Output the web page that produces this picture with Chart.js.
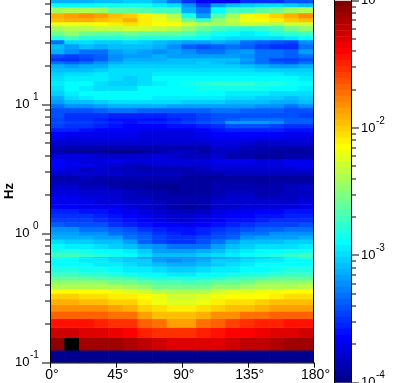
<!DOCTYPE html>
<html lang="en">
<head>
<meta charset="UTF-8">
<title>Directional spectrum</title>
<script src="https://cdn.jsdelivr.net/npm/chart.js@4"></script>
<style>
    body { margin: 0; background: #fff; overflow: hidden; }
    canvas { position: absolute; top: 0; }
    #spectrum { left: 0; }
    #colorbar { left: 320px; }
</style>
</head>
<body>
<canvas id="spectrum" width="418" height="383"></canvas>
<canvas id="colorbar" width="98" height="383"></canvas>
<script>
// column centres in degrees
const angles = [5,15,25,35,45,55,65,75,85,95,105,115,125,135,145,155,165,175];
const angleTicks = [0,45,90,135,180];

// frequency bin edges in Hz, top of the plot first
const binEdgesHz = [64.5,61.2,57,51.2,46.8,43.6,40.6,37.2,34,31.6,29.5,27,24.7,23,21.8,20.6,19.2,17.9,16.7,15.2,14,12.8,11.7,10.9,10.1,9.43,8.63,7.89,7.48,7.1,6.6,6.15,5.62,5.15,4.8,4.46,4.16,3.8,3.54,3.3,3.07,2.81,2.57,2.39,2.19,2,1.83,1.68,1.56,1.43,1.31,1.22,1.13,1.04,0.966,0.9,0.837,0.766,0.713,0.664,0.641,0.597,0.556,0.5,0.469,0.4375,0.406,0.375,0.344,0.3125,0.281,0.25,0.219,0.1875,0.156,0.125,0.1];

// power in dB above 1e-4, one row per bin, same order as binEdgesHz
const powerDb = [
[8.5,8.5,8.5,9,9,9.5,9.5,8.5,7,5,3.5,3,3,5,5,5,6,6],
[11,11,11,11.5,11.5,11.5,11.5,10.5,10,7.5,5.5,8,9,9.5,10,10,9.5,9],
[15.5,16,16,15.5,14,14,13.5,13,13,8.5,7,11,13,13,14,14.5,15.5,16],
[21,21.5,22,21.5,20.5,20,19,17.5,16,11.5,8,13.5,15.5,18,19,20,21,22],
[20.5,21,21,20.5,20,21,19,18,17,14.5,12.5,15,16.5,18,18.5,19,20,20.5],
[18,18,18,18.5,19,19.5,19,18.5,18.5,17,16,15.5,16,17,16.5,16,17,17],
[15.5,16,16,16.5,16.5,17,17,16.5,16,15,14,13,12.5,12,12.5,13,14.5,15],
[14.5,15,14.5,14,14,14.5,14,14,14,13.5,12.5,11.5,11,10.5,11,12,12.5,13],
[12,13,12,12,12,12.5,12,12,12,11.5,11,10.5,10,10,10,10,10.5,11],
[7,10,10,9.5,9.5,10,9.5,9,8.5,8,8,8.5,8,7,6.5,6,5.5,7.5],
[9,8,9,8.5,9,9,9,8.5,7.5,6.5,6,6.5,7,6.5,5.5,5,5,7],
[8.5,7.5,7,7,8,8.5,8,7.5,8,7.5,7,7,7.5,8,7,7,6.5,8],
[6,5.5,6,6.5,7.5,8,8,8.5,8,8,8,8,8,7.5,7,7,6.5,7],
[5,5,5.5,6.5,7.5,8.5,8.5,8.5,9,9,9,9,9,8,7,5.5,5.5,6],
[7,6.5,7,7.5,8.5,9,9,9,9,9,9.5,9,8.5,7.5,7,6.5,6,7],
[8.5,8,8.5,8.5,9.5,9.5,9.5,9.5,9.5,9.5,9.5,9.5,9.5,9,8.5,8,8,8.5],
[9,9,9,9.5,10,10,10,10,10,10,10,10,10,10,9.5,9.5,9.5,9.5],
[9.5,10,10,10.5,10,10,10,10.5,10.5,10.5,10.5,10.5,10.5,10.5,10.5,10.5,10,10],
[10,10.5,10.5,10.5,10,9.5,10,11,11,11,11,11,11,11,11,11,11,10.5],
[10.5,11,11,10,9.5,9.5,10,10.5,11,11.5,12,12.5,12.5,12.5,12,12,11.5,11],
[10,11,10.5,10,10,10,11,11,11,11,11.5,11.5,11.5,11.5,11.5,11,11,10.5],
[9.5,10.5,11,11,11,11,11,11,11,11,11,11,10.5,10.5,10.5,10,10,10],
[8.5,10,10.5,11,11,11,11,10.5,10.5,10.5,10.5,10.5,10,10,9.5,9.5,9,9.5],
[8,9,9,9.5,10,10,10,10,10,9.5,9.5,9.5,9,9,9,8.5,8.5,9],
[7,7.5,7.5,8,8.5,8.5,8.5,8.5,8,8,8,8,8,8,7.5,7.5,7,7.5],
[6,6,6,6.5,7,7,6.5,6.5,6.5,6.5,6.5,7,7,6.5,6.5,6.5,6,6],
[6,5,5,5,4.5,4.5,4.5,4.5,5,5,5.5,6,6,6,6,6,6,5.5],
[5.5,5,5,4.5,4,4,4,4,4.5,5,5.5,6,6.5,7,7,7,6.5,6.5],
[6,5.5,5.5,5,4.5,4,4.5,4.5,5,5.5,6,6.5,8,8,8,7.5,6.5,6.5],
[5.5,5,5,4.5,4,3.5,3.5,3.5,4,4,4.5,5,6,6,6,5.5,5,5],
[4.5,4.5,4,3.5,3.5,3.5,3,3,3,3,3.5,4,4.5,4.5,4.5,4.5,4,4],
[3.5,3,3,3,3,3,2.5,2.5,2.5,2.5,3,3.5,3.5,3.5,3.5,3.5,3,3],
[2.5,2.5,2.5,2.5,2.5,2.5,2.5,2.5,2.5,2.5,2.5,3,3,3,2.5,2.5,2.5,2.5],
[2,2,2,2,2,2,2,2,2,2,2,2.5,2.5,2,1.5,2,2,2],
[1.5,1,1,1,1,1,1,1,1,1,1,2,2,1.5,1,1,1,1],
[1,0.5,0.5,0.5,0,0,0.5,1,1.5,1.5,1,1.5,1.5,1,1,0.5,0.5,0.5],
[2.5,2.5,2.5,2,2,2,2,2.5,2,1.5,1.5,2,1,1,0.5,0.5,1,1],
[3.5,3,2.5,2.5,3,2.5,2.5,2.5,2.5,2.5,2.5,3,3,3,2.5,2.5,3,3],
[3.5,3,3,2.5,2,1.5,1.5,2,2,2,2,2.5,2.5,2.5,2.5,2.5,3,3],
[3,2.5,1.5,2,1.5,1.5,1,1,1,1,1.5,2,2,2,2,2,2,2.5],
[2,2,2,2,2,1.5,1.5,1.5,1.5,1,1,1,1.5,1.5,1.5,1.5,1.5,1.5],
[1,1,1.5,1,1,1,1,1,1,0.5,0.5,0.5,0.5,0.5,0.5,0.5,0.5,0.5],
[1.5,1.5,1,1,0.5,0.5,0.5,0.5,0.5,0.5,0.5,1,1,1,0.5,1,1,1],
[2,2,1.5,1.5,1,0.5,0.5,0,0,0.5,0.5,1,1,1,1,1,1.5,2],
[2.5,2.5,2,2,2,1.5,1,1,0.5,0.5,0.5,1,1.5,1.5,1,1,1.5,1.5],
[3,3,2.5,2.5,2,1.5,1.5,1,1,1,1,1.5,2,2,1.5,1.5,1.5,2],
[3,3,3,2.5,2.5,2,2,1.5,1,1,1,2,2,2,2,2,2,2.5],
[3.5,3.5,3,3,3,2.5,2,1.5,1,0.5,1,2,2,2.5,2.5,2.5,2.5,3],
[4.5,4.5,4,4,3.5,3,2.5,2,1.5,1.5,1.5,2.5,3,3,3.5,3.5,4,4],
[5,5,5,4.5,4,3.5,3,2.5,2,2,2.5,3,3.5,3.5,4,4,4.5,4.5],
[5.5,5.5,5.5,5,4.5,4,3.5,3,2.5,2.5,3,3.5,4,4,4.5,5,5,5],
[6.5,6,6,6,5,4.5,4,3.5,3.5,3,3.5,4,4.5,5,5.5,5.5,5.5,6],
[7.5,7.5,7,7,6.5,6,5,4.5,4,4,4.5,5,5.5,6,6.5,6.5,7,7],
[8,8,7.5,7.5,7,6.5,6,5,4.5,4,4.5,5.5,6,7,7,7.5,7.5,7.5],
[8.5,8.5,8.5,8,8,7,6.5,5.5,5,5,5.5,6,6.5,7.5,8,8,8,8.5],
[10,9.5,9.5,9,9,8,6.5,5.5,5,5,6,7,8,9,9,9,9.5,9.5],
[11,10.5,10.5,10,9.5,9,8,7.5,7,7,7,8,9,9.5,10,10,10,10.5],
[12,12,11.5,11,11,10.5,9.5,8,8,8,8.5,9,10,10.5,11,11,11.5,11.5],
[13,13,12.5,12,11.5,11,10,9,9,9,9.5,10,10.5,11,11.5,12,12.5,13],
[11.5,11,10.5,10,9.5,9,8,7.5,7.5,7.5,7.5,8,8.5,9,9.5,10,11,12],
[11,11,10.5,10.5,10,9.5,9.5,8,7.5,8,8.5,9.5,9.5,10,10.5,10.5,11,11],
[11,11,11,10.5,10.5,10,9.5,9,8.5,8.5,9,9.5,10,10.5,11,11,11,11],
[12,12,11.5,11.5,11,10.5,10.5,10,9.5,9.5,10,10.5,10.5,11,11,11.5,12,12],
[13,13,12.5,12.5,12,11.5,11,11,10.5,10.5,11,11,11.5,12,12,12.5,13,13],
[14,14,14,13.5,13.5,13,12.5,12,12,12,12,12.5,13,13,13.5,14,14,14],
[15,15,15,15,14.5,14.5,14,13.5,13.5,13,13.5,14,14,14.5,15,15,15,15],
[16,16,16,16,16,15.5,15,14.5,14.5,14.5,14.5,15,15,15.5,16,16,16,16.5],
[18.5,18.5,18.5,18.5,18,17.5,17,16,16,16,16,17,17.5,17.5,18,18,18.5,18.5],
[20,20,19.5,19.5,19,19,18.5,18,17,17,17.5,18,18.5,18.5,18.5,19,19.5,19.5],
[21,21,20.5,20.5,20,20,19,18,17.5,17.5,18,19,19.5,19.5,20,20.5,20.5,20.5],
[22,22,22,22,21.5,21,20,19.5,19,19,19.5,20,20.5,20.5,21,21.5,21.5,21.5],
[23,23,23,23,22.5,22.5,21.5,20.5,20.5,20.5,21,22,22,22.5,22.5,23,23,23],
[25.5,25.5,25.5,25,24.5,24.5,23,22.5,21.5,21.5,22.5,23,24,24.5,25,25,25.5,25.5],
[27.5,27.5,27,27,26.5,26,25,24.5,24.5,24.5,25,25.5,26,26,26.5,27,27,27.5],
[29.5,31,29,29,29,28.5,28,27.5,27,27,27,27,27.5,28,28,28.5,29,29],
[0,0,0,0,0,0,0,0,0,0,0,0,0,0,0,0,0,0]
];

// colour bar steps, same dB scale
const colorbarDb = [0,0.47,0.94,1.41,1.88,2.34,2.81,3.28,3.75,4.22,4.69,5.16,5.63,6.09,6.56,7.03,7.5,7.97,8.44,8.91,9.38,9.84,10.31,10.78,11.25,11.72,12.19,12.66,13.13,13.59,14.06,14.53,15,15.47,15.94,16.41,16.88,17.34,17.81,18.28,18.75,19.22,19.69,20.16,20.63,21.09,21.56,22.03,22.5,22.97,23.44,23.91,24.38,24.84,25.31,25.78,26.25,26.72,27.19,27.66,28.13,28.59,29.06,29.53,30];

const hzMajor = [0.1,1,10];
const hzMinor = [0.2,0.3,0.4,0.5,0.6,0.7,0.8,0.9,2,3,4,5,6,7,8,9,20,30,40,50,60];
const powerMajor = [0.0001,0.001,0.01,0.1];
const powerMinor = [0.0002,0.0003,0.0004,0.0005,0.0006,0.0007,0.0008,0.0009,0.002,0.003,0.004,0.005,0.006,0.007,0.008,0.009,0.02,0.03,0.04,0.05,0.06,0.07,0.08,0.09];

const FONT = '"Liberation Sans", Arial, sans-serif';

function clamp01(v) { return Math.max(0, Math.min(1, v)); }

// 64 step jet, anything above the top of the scale is black
function jet(db) {
    if (db > 30) return 'rgb(0,0,0)';
    const idx = Math.min(63, Math.floor(db / 30 * 64));
    const t = (idx + 1) / 64;
    const r = clamp01(1.5 - Math.abs(4 * t - 3));
    const g = clamp01(1.5 - Math.abs(4 * t - 2));
    const b = clamp01(1.5 - Math.abs(4 * t - 1));
    return `rgb(${Math.round(r * 255)},${Math.round(g * 255)},${Math.round(b * 255)})`;
}

function dbToPower(db) { return 1e-4 * Math.pow(10, db / 10); }

// draws "10" with a raised exponent
function powerLabel(ctx, x, y, exp) {
    ctx.font = '13px ' + FONT;
    ctx.textAlign = 'left';
    ctx.textBaseline = 'middle';
    ctx.fillText('10', x, y);
    ctx.font = '10px ' + FONT;
    ctx.textAlign = 'left';
    // the reference keeps positive powers a little further from the "10"
    ctx.fillText(String(exp), x + (exp < 0 ? 15 : 18), y - 7);
}

const spectrumAxes = {
    id: 'spectrumAxes',
    afterDraw(chart) {
        const { ctx, chartArea: a, scales: { x, y } } = chart;
        ctx.save();
        ctx.fillStyle = '#000';
        ctx.fillRect(a.left, 0, 1, a.bottom + 0.5);
        ctx.fillRect(a.right - 0.5, 0, 1, a.bottom + 0.5);
        ctx.fillRect(a.left, Math.round(a.bottom) - 0.5, a.right - a.left + 1, 1);
        hzMinor.forEach(v => ctx.fillRect(a.left - 5, Math.round(y.getPixelForValue(v)) - 0.5, 5, 1));
        hzMajor.forEach(v => {
            const py = y.getPixelForValue(v);
            ctx.fillRect(a.left - 8, Math.round(py) - 0.5, 8, 1);
            powerLabel(ctx, 15, py, Math.round(Math.log10(v)));
        });
        ctx.font = '14px ' + FONT;
        ctx.textAlign = 'center';
        ctx.textBaseline = 'alphabetic';
        angleTicks.forEach(v => {
            const px = x.getPixelForValue(v);
            ctx.fillRect(Math.round(px), a.bottom, 1, 5);
            ctx.fillText(v + '°', px + 2, 379);
        });
        ctx.translate(13, 191);
        ctx.rotate(-Math.PI / 2);
        ctx.font = 'bold 13px ' + FONT;
        ctx.fillText('Hz', 0, 0);
        ctx.restore();
    }
};

const colorbarAxes = {
    id: 'colorbarAxes',
    afterDraw(chart) {
        const { ctx, chartArea: a, scales: { y } } = chart;
        ctx.save();
        ctx.fillStyle = '#000';
        ctx.fillRect(a.left - 1, 0, 1, a.bottom + 0.5);
        ctx.fillRect(a.right, 0, 1, a.bottom + 0.5);
        ctx.fillRect(a.left - 1, Math.round(a.bottom) - 0.5, a.right - a.left + 2, 1);
        powerMinor.forEach(v => ctx.fillRect(a.right, Math.round(y.getPixelForValue(v)) - 0.5, 5, 1));
        powerMajor.forEach(v => {
            const py = y.getPixelForValue(v);
            ctx.fillRect(a.right, Math.round(py) - 0.5, 8, 1);
            powerLabel(ctx, 41, py, Math.round(Math.log10(v)));
        });
        ctx.restore();
    }
};

const spectrumDatasets = powerDb.map((row, i) => ({
    data: row.map((db, j) => ({ x: angles[j], y: [binEdgesHz[i + 1], binEdgesHz[i]] })),
    backgroundColor: row.map(jet),
    borderWidth: 0,
    grouped: false,
    barPercentage: 1,
    categoryPercentage: 1
}));

new Chart(document.getElementById('spectrum'), {
    type: 'bar',
    data: { datasets: spectrumDatasets },
    options: {
        responsive: false,
        animation: false,
        events: [],
        layout: { padding: { left: 50, right: 104.5, top: 0, bottom: 20.3 } },
        plugins: { legend: { display: false }, tooltip: { enabled: false } },
        scales: {
            x: {
                type: 'linear', min: 0, max: 180, offset: false,
                grid: { display: false, drawTicks: false }, border: { display: false },
                ticks: { display: false }
            },
            y: {
                type: 'logarithmic', min: 0.1, max: 64.5,
                grid: { display: false, drawTicks: false }, border: { display: false },
                ticks: { display: false }
            }
        }
    },
    plugins: [spectrumAxes]
});

const colorbarDatasets = colorbarDb.slice(0, -1).map((db, i) => ({
    data: [[dbToPower(db), dbToPower(colorbarDb[i + 1])]],
    backgroundColor: jet(db + 0.01),
    borderWidth: 0,
    grouped: false,
    barPercentage: 1,
    categoryPercentage: 1
}));

new Chart(document.getElementById('colorbar'), {
    type: 'bar',
    data: { labels: ['power'], datasets: colorbarDatasets },
    options: {
        responsive: false,
        animation: false,
        events: [],
        layout: { padding: { left: 15, right: 67, top: 0.7, bottom: 0.4 } },
        plugins: { legend: { display: false }, tooltip: { enabled: false } },
        scales: {
            x: { grid: { display: false, drawTicks: false }, border: { display: false }, ticks: { display: false } },
            y: {
                type: 'logarithmic', min: 0.0001, max: 0.1,
                grid: { display: false, drawTicks: false }, border: { display: false },
                ticks: { display: false }
            }
        }
    },
    plugins: [colorbarAxes]
});
</script>
</body>
</html>
